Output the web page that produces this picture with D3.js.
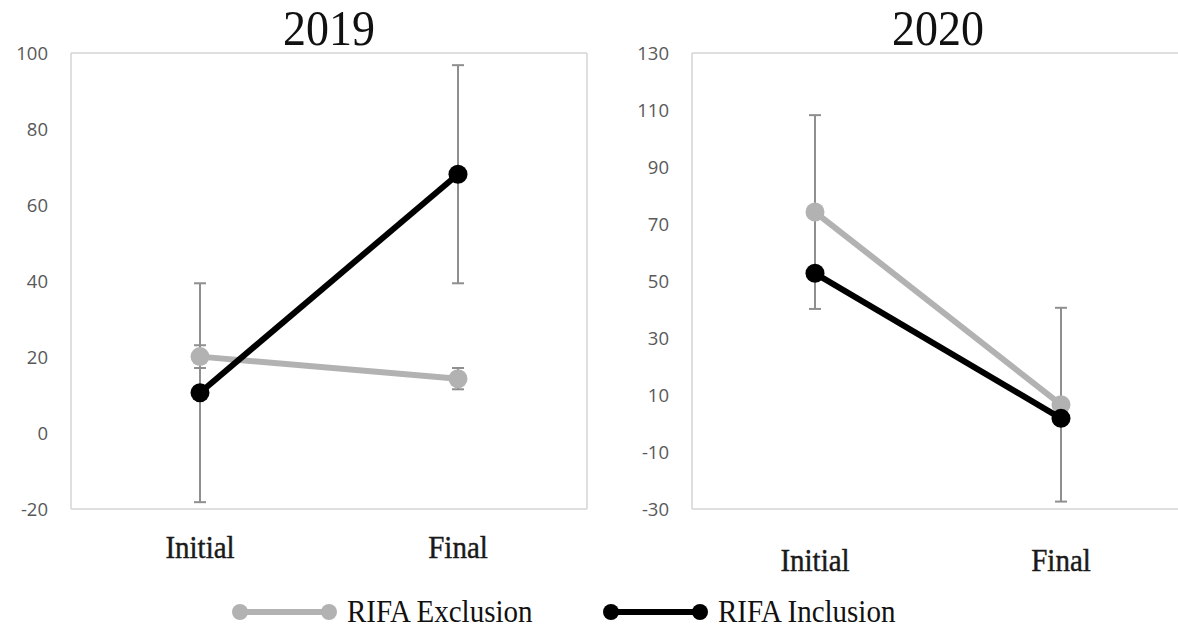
<!DOCTYPE html>
<html><head><meta charset="utf-8">
<script src="https://cdn.jsdelivr.net/npm/d3@7"></script>
<style>body{margin:0;background:#fff}svg{display:block}</style>
</head><body>
<svg id="chart" width="1178" height="632"></svg>
<script>
const categories = ["Initial", "Final"];
const panelTitles = ["2019", "2020"];
const seriesNames = ["RIFA Exclusion", "RIFA Inclusion"];

const exclusion2019 = [20.1, 14.3];
const exclusionErr2019 = [3, 2.8];
const inclusion2019 = [10.6, 68.1];
const inclusionErr2019 = [28.8, 28.7];

const exclusion2020 = [74.2, 6.6];
const exclusionErr2020 = [34, 34];
const inclusion2020 = [52.7, 1.8];
const inclusionErr2020 = [0, 0];

const yTicks2019 = [-20, 0, 20, 40, 60, 80, 100];
const yTicks2020 = [-30, -10, 10, 30, 50, 70, 90, 110, 130];

(function () {
const svg = d3.select("#chart");
const colors = ["#b2b2b2", "#000000"];

const panels = [
  {title: panelTitles[0], ex: exclusion2019, exE: exclusionErr2019, inc: inclusion2019, incE: inclusionErr2019,
   ticks: yTicks2019, x0: 71, x1: 587, labX: 48, labY: 558, rightBorder: true},
  {title: panelTitles[1], ex: exclusion2020, exE: exclusionErr2020, inc: inclusion2020, incE: inclusionErr2020,
   ticks: yTicks2020, x0: 692, x1: 1184, labX: 669, labY: 571, rightBorder: false}
];
const plotTop = 53, plotBottom = 509;

panels.forEach(p => {
  const g = svg.append("g");
  const x = d3.scaleBand().domain(categories).range([p.x0, p.x1]);
  const y = d3.scaleLinear().domain(d3.extent(p.ticks)).range([plotBottom, plotTop]);
  const cx = c => x(c) + x.bandwidth() / 2;

  const bc = "#d4d4d4";
  g.append("line").attr("x1", p.x0).attr("x2", p.x1).attr("y1", plotTop).attr("y2", plotTop).attr("stroke", bc).attr("stroke-width", 1.5);
  g.append("line").attr("x1", p.x0).attr("x2", p.x1).attr("y1", plotBottom).attr("y2", plotBottom).attr("stroke", bc).attr("stroke-width", 1.5);
  g.append("line").attr("x1", p.x0).attr("x2", p.x0).attr("y1", plotTop).attr("y2", plotBottom).attr("stroke", bc).attr("stroke-width", 1.5);
  if (p.rightBorder) g.append("line").attr("x1", p.x1).attr("x2", p.x1).attr("y1", plotTop).attr("y2", plotBottom).attr("stroke", bc).attr("stroke-width", 1.5);

  g.selectAll("text.ytick").data(p.ticks).enter().append("text")
    .attr("class", "ytick")
    .attr("x", p.labX).attr("y", d => y(d)).attr("dy", "0.36em")
    .attr("text-anchor", "end")
    .attr("font-family", "'Open Sans', sans-serif").attr("font-size", 18.5)
    .attr("fill", "#595959").text(d => d);

  g.selectAll("text.xlab").data(categories).enter().append("text")
    .attr("class", "xlab")
    .attr("transform", d => `translate(${cx(d)},${p.labY}) scale(1,1.1)`)
    .attr("text-anchor", "middle")
    .attr("font-family", "'Liberation Serif', 'Times New Roman', serif").attr("font-size", 29)
    .attr("fill", "#1a1a1a").attr("stroke", "#1a1a1a").attr("stroke-width", 0.4)
    .text(d => d);

  g.append("text")
    .attr("transform", `translate(${(p.x0 + p.x1) / 2},45) scale(1,1.1)`)
    .attr("text-anchor", "middle")
    .attr("font-family", "'Liberation Serif', 'Times New Roman', serif").attr("font-size", 46)
    .attr("fill", "#111").text(p.title);

  const series = [
    {vals: p.ex, errs: p.exE, color: colors[0]},
    {vals: p.inc, errs: p.incE, color: colors[1]}
  ];

  series.forEach(s => {
    categories.forEach((c, i) => {
      const e = s.errs[i];
      if (!e) return;
      const xc = cx(c);
      const ya = y(s.vals[i] + e), yb = y(s.vals[i] - e);
      g.append("line").attr("x1", xc).attr("x2", xc).attr("y1", ya).attr("y2", yb).attr("stroke", "#8f8f8f").attr("stroke-width", 2);
      [ya, yb].forEach(yy => g.append("line").attr("x1", xc - 6).attr("x2", xc + 6).attr("y1", yy).attr("y2", yy).attr("stroke", "#8f8f8f").attr("stroke-width", 2));
    });
  });

  const line = d3.line().x((d, i) => cx(categories[i])).y(d => y(d));
  series.forEach(s => {
    g.append("path").datum(s.vals).attr("d", line).attr("fill", "none")
      .attr("stroke", s.color).attr("stroke-width", 6);
    g.selectAll(null).data(s.vals).enter().append("circle")
      .attr("cx", (d, i) => cx(categories[i])).attr("cy", d => y(d)).attr("r", 9.5)
      .attr("fill", s.color);
  });
});

const legendItems = [
  {name: seriesNames[0], color: colors[0], x0: 240, x1: 329, tx: 347},
  {name: seriesNames[1], color: colors[1], x0: 611, x1: 700, tx: 718}
];
const ly = 612;
legendItems.forEach(it => {
  const g = svg.append("g");
  g.append("line").attr("x1", it.x0).attr("x2", it.x1).attr("y1", ly).attr("y2", ly).attr("stroke", it.color).attr("stroke-width", 6);
  [it.x0, it.x1].forEach(xx => g.append("circle").attr("cx", xx).attr("cy", ly).attr("r", 8).attr("fill", it.color));
  g.append("text").attr("transform", `translate(${it.tx},${ly + 10}) scale(1,1.1)`)
    .attr("font-family", "'Liberation Serif', 'Times New Roman', serif").attr("font-size", 29)
    .attr("fill", "#111").text(it.name);
});
})();
</script>
</body></html>
